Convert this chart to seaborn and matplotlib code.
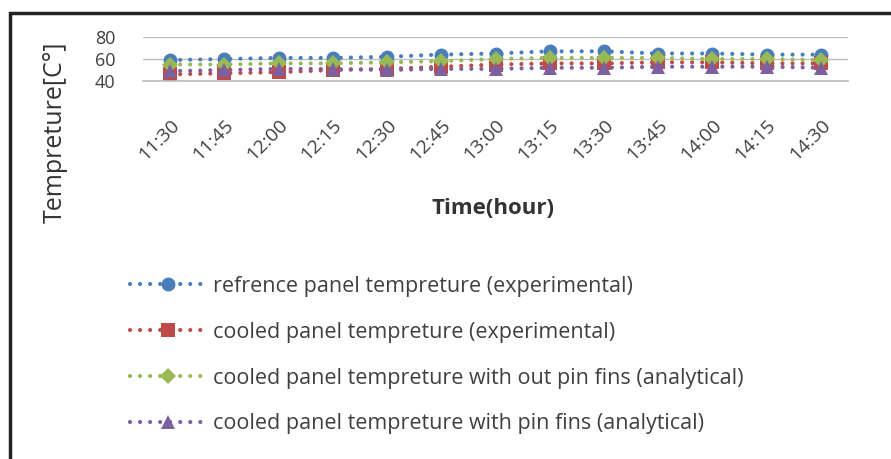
import matplotlib
matplotlib.use("Agg")
import matplotlib.pyplot as plt
from matplotlib.patches import Rectangle
from matplotlib.transforms import ScaledTranslation
import seaborn as sns
import pandas as pd

times = ["11:30", "11:45", "12:00", "12:15", "12:30", "12:45", "13:00",
         "13:15", "13:30", "13:45", "14:00", "14:15", "14:30"]
reference_exp = [59, 60, 61, 61, 62, 64, 65, 67, 67, 65, 65, 64, 64]
cooled_exp = [46, 47, 48, 50, 51, 53, 55, 56, 56, 57, 57, 56, 56]
cooled_no_fins = [55, 55, 56, 56, 57, 58, 60, 61, 61, 61, 60, 60, 59]
cooled_fins = [49, 50, 51, 51, 50, 51, 51, 52, 52, 53, 53, 53, 52]

series_names = [
    "refrence panel tempreture (experimental)",
    "cooled panel tempreture (experimental)",
    "cooled panel tempreture with out pin fins (analytical)",
    "cooled panel tempreture with pin fins (analytical)",
]
series_values = [reference_exp, cooled_exp, cooled_no_fins, cooled_fins]
colors = ["#4A7EBB", "#BE4B48", "#98B954", "#7D60A0"]
markers = ["o", "s", "D", "^"]
msizes = [10, 9.5, 8.5, 10.5]

TEXT = "#404040"
DOTS = (0, (0.01, 2.4))

sns.set_theme(style="white")
plt.rcParams["font.family"] = ["Open Sans", "DejaVu Sans"]

fig = plt.figure(figsize=(8.91, 4.59), dpi=100)
ax = fig.add_axes([143 / 891, 1 - 81 / 459, (848 - 143) / 891, 44 / 459])

x = list(range(len(times)))
handles = []
for name, vals, c, m, ms in zip(series_names, series_values, colors, markers, msizes):
    df = pd.DataFrame({"t": x, "v": vals})
    sns.lineplot(data=df, x="t", y="v", ax=ax, color=c, linewidth=3,
                 linestyle=DOTS, dash_capstyle="round",
                 marker=m, markersize=ms, markeredgewidth=0, legend=False)
    h, = ax.plot([], [], color=c, linewidth=3, linestyle=DOTS,
                 dash_capstyle="round", marker=m, markersize=ms,
                 markeredgewidth=0, label=name)
    handles.append(h)

ax.set_xlim(-0.5, len(times) - 0.5)
ax.set_ylim(40, 80)
ax.set_yticks([40, 60, 80])
ax.set_xticks(x)
ax.set_xticklabels(times, rotation=45, ha="right", rotation_mode="anchor",
                   fontsize=14, color=TEXT)
shift = ScaledTranslation(-6 / 72, 0, fig.dpi_scale_trans)
for lab in ax.get_xticklabels():
    lab.set_transform(lab.get_transform() + shift)
ax.tick_params(axis="y", labelsize=13, labelcolor=TEXT, pad=14)
ax.tick_params(axis="x", pad=19)
ax.grid(axis="y", color="#BFBFBF", linewidth=1)
for s in ["top", "right", "left"]:
    ax.spines[s].set_visible(False)
ax.spines["bottom"].set_color("#BFBFBF")
ax.set_xlabel("")
ax.set_ylabel("")

fig.text(55 / 891, 1 - 132 / 459, "Tempreture[C°]", rotation=90, ha="center",
         va="center", fontsize=18, fontweight="medium", color="#333333")
fig.text(493 / 891, 1 - 208 / 459, "Time(hour)", ha="center", va="center",
         fontsize=16, fontweight="bold", color="#333333")

leg = fig.legend(handles=handles, loc="upper left",
                 bbox_to_anchor=(130 / 891, 1 - 276 / 459), frameon=False,
                 fontsize=15.5, handlelength=3.5, labelspacing=1.15,
                 handletextpad=0.35, borderpad=0, borderaxespad=0,
                 labelcolor=TEXT)

fig.add_artist(Rectangle((10 / 891, -0.05), 1.0, 1 - 13 / 459 + 0.05,
                         transform=fig.transFigure, fill=False,
                         edgecolor="#222222", linewidth=2.5))

fig.savefig("out.png", dpi=100)
